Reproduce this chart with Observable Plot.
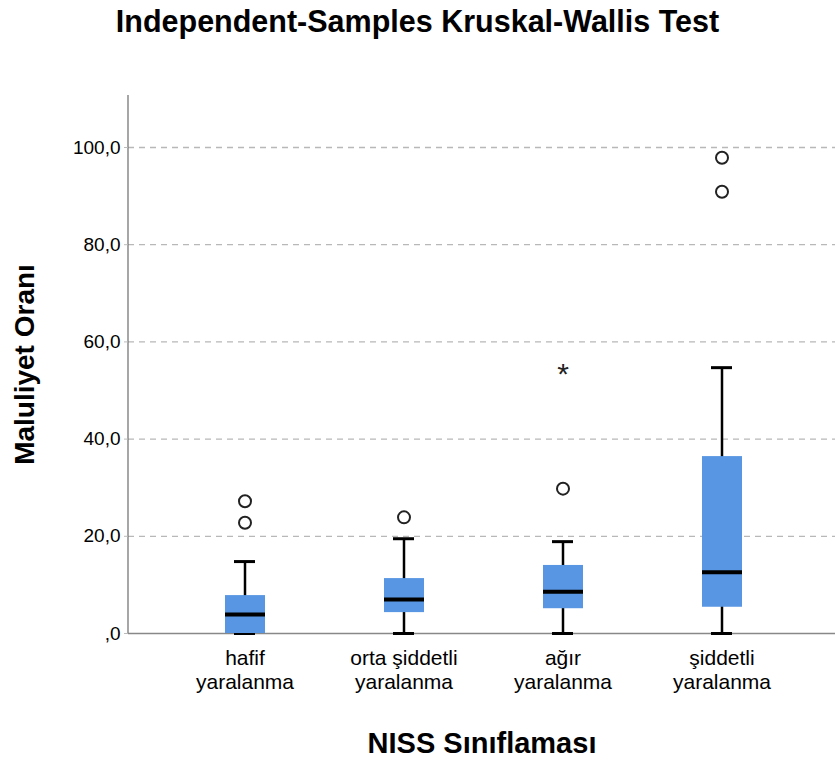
<!DOCTYPE html>
<html>
<head>
<meta charset="utf-8">
<script src="https://cdn.jsdelivr.net/npm/d3@7"></script>
<script src="https://cdn.jsdelivr.net/npm/@observablehq/plot@0.6"></script>
<style>
  html, body { margin: 0; padding: 0; background: #fff; }
  #title { height: 48px; width: 835px; text-align: center; font: bold 30.5px "Liberation Sans", Arial, sans-serif; line-height: 42px; color: #000; }
  svg { display: block; }
</style>
</head>
<body>
<div id="title">Independent-Samples Kruskal-Wallis Test</div>
<div id="chart"></div>
<script>
// Categories (x axis)
const categories = ["hafif\nyaralanma", "orta şiddetli\nyaralanma", "ağır\nyaralanma", "şiddetli\nyaralanma"];
// Box statistics per category
const whiskerLow = [0, 0, 0, 0];
const q1 = [0, 4.3, 5.1, 5.4];
const median = [3.9, 7.0, 8.6, 12.6];
const q3 = [7.8, 11.3, 14.0, 36.4];
const whiskerHigh = [14.8, 19.5, 18.9, 54.7];
// Outliers
const outlierCategory = [categories[0], categories[0], categories[1], categories[2], categories[3], categories[3]];
const outlierValue = [27.2, 22.8, 23.9, 29.8, 97.9, 90.9];
// Extreme values (star)
const extremeCategory = [categories[2]];
const extremeValue = [54.7];
// Y tick values
const yTicks = [0, 20, 40, 60, 80, 100];

const boxes = categories.map((c, i) => ({cat: c, lo: whiskerLow[i], q1: q1[i], med: median[i], q3: q3[i], hi: whiskerHigh[i]}));
const outliers = outlierCategory.map((c, i) => ({cat: c, v: outlierValue[i]}));
const extremes = extremeCategory.map((c, i) => ({cat: c, v: extremeValue[i]}));

const fmt = d => d === 0 ? ",0" : d3.format(".1f")(d).replace(".", ",");
const font = '"Liberation Sans", Arial, sans-serif';

// left axis line drawn from the plot dimensions
const leftAxisLine = (index, scales, values, dimensions) => {
  const {marginLeft, marginTop, height, marginBottom} = dimensions;
  return d3.create("svg:line")
    .attr("x1", marginLeft).attr("x2", marginLeft)
    .attr("y1", marginTop).attr("y2", height - marginBottom)
    .attr("stroke", "#777").attr("stroke-width", 1.3).node();
};

const chart = Plot.plot({
  width: 835,
  height: 716,
  marginLeft: 128,
  marginRight: 0,
  marginTop: 47,
  marginBottom: 131,
  style: {fontFamily: font, fontSize: "16px", color: "#000", background: "#fff"},
  x: {domain: categories, padding: 0, insetLeft: 36, insetRight: 34, label: null},
  y: {domain: [0, 110.7], label: null},
  marks: [
    Plot.gridY(yTicks.filter(d => d > 0), {stroke: "#b8b8b8", strokeOpacity: 1, strokeWidth: 1.3, strokeDasharray: "6,5"}),
    Plot.ruleY([0], {stroke: "#888", strokeWidth: 1.3}),
    leftAxisLine,
    Plot.ruleX(boxes, {x: "cat", y1: "lo", y2: "hi", stroke: "#000", strokeWidth: 2.5}),
    Plot.tickY(boxes, {x: "cat", y: "hi", stroke: "#000", strokeWidth: 3, insetLeft: 69, insetRight: 69}),
    Plot.tickY(boxes, {x: "cat", y: "lo", stroke: "#000", strokeWidth: 3, insetLeft: 69, insetRight: 69}),
    Plot.rectY(boxes, {x: "cat", y1: "q1", y2: "q3", fill: "#5896e3", insetLeft: 60, insetRight: 59}),
    Plot.tickY(boxes, {x: "cat", y: "med", stroke: "#000", strokeWidth: 4, insetLeft: 60, insetRight: 59}),
    Plot.dot(outliers, {x: "cat", y: "v", r: 6, stroke: "#222", strokeWidth: 2, fill: "none"}),
    Plot.text(extremes, {x: "cat", y: "v", text: () => "*", fontSize: 30, dy: 7, fill: "#222"}),
    Plot.axisY(yTicks, {tickFormat: fmt, tickSize: 4, tickPadding: 4, fontSize: 19, stroke: "#bbb", label: null}),
    Plot.axisX({tickSize: 0, tickPadding: 14, fontSize: 21, lineHeight: 1.15, label: null}),
    Plot.text(["Maluliyet Oranı"], {frameAnchor: "left", textAnchor: "middle", dx: -103, rotate: -90, fontSize: 28, fontWeight: "bold"}),
    Plot.text(["NISS Sınıflaması"], {frameAnchor: "bottom", dy: 119, fontSize: 29, fontWeight: "bold"})
  ]
});
document.getElementById("chart").appendChild(chart);
</script>
</body>
</html>
